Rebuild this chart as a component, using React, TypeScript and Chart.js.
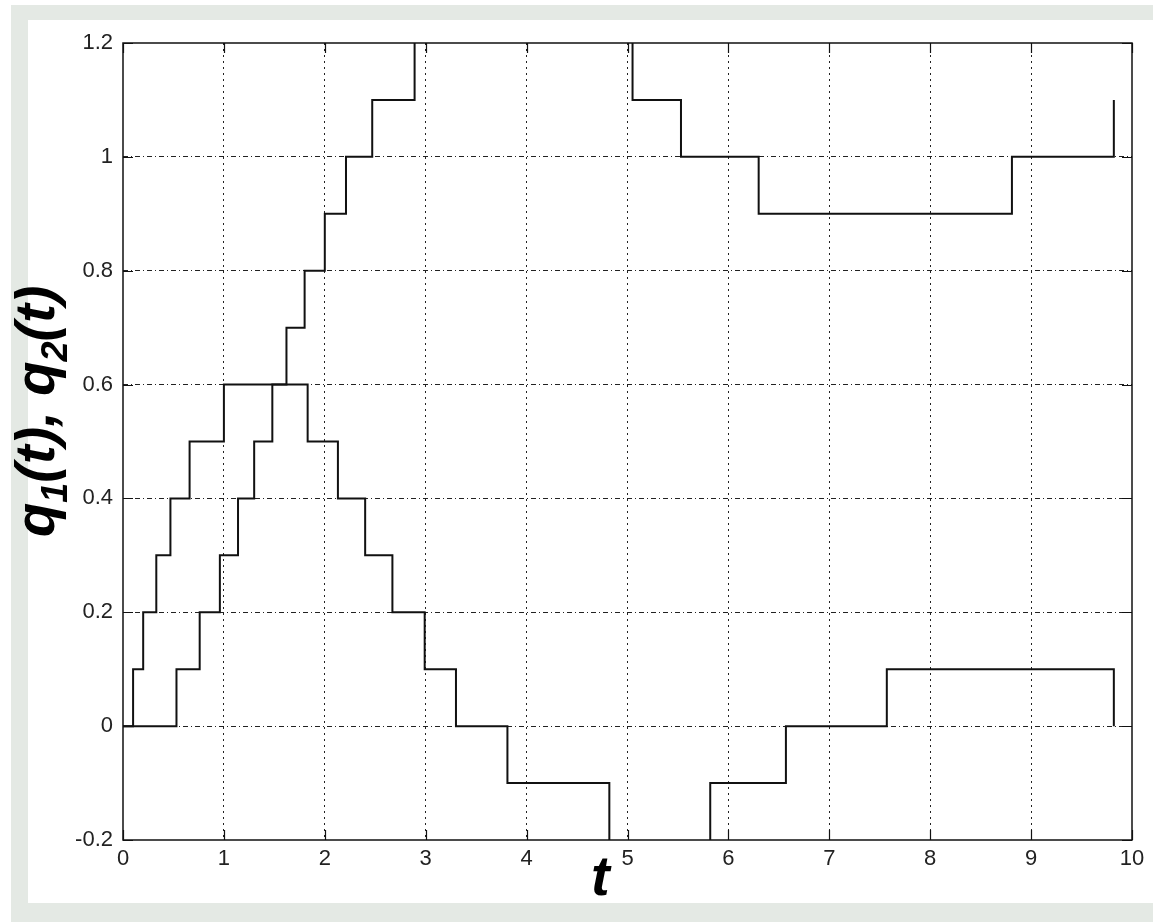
import React, { useEffect, useRef } from 'react';
import { Chart, registerables } from 'chart.js';

Chart.register(...registerables);

// Step times and values of q1(t)
const tQ1 = [0, 0.1, 0.2, 0.33, 0.47, 0.66, 1.0, 1.62, 1.8, 2.0, 2.21, 2.47, 2.89, 5.05, 5.53, 6.3, 8.81, 9.82];
const q1 = [0, 0.1, 0.2, 0.3, 0.4, 0.5, 0.6, 0.7, 0.8, 0.9, 1.0, 1.1, 1.3, 1.1, 1.0, 0.9, 1.0, 1.1];

// Step times and values of q2(t)
const tQ2 = [0, 0.53, 0.76, 0.96, 1.14, 1.3, 1.48, 1.83, 2.13, 2.4, 2.67, 2.99, 3.3, 3.81, 4.82, 5.82, 6.57, 7.57, 9.82];
const q2 = [0, 0.1, 0.2, 0.3, 0.4, 0.5, 0.6, 0.5, 0.4, 0.3, 0.2, 0.1, 0, -0.1, -0.3, -0.1, 0, 0.1, 0];

const xTicks = [0, 1, 2, 3, 4, 5, 6, 7, 8, 9, 10];
const xTickLabels = ['0', '1', '2', '3', '4', '5', '6', '7', '8', '9', '10'];
const yTicks = [-0.2, 0, 0.2, 0.4, 0.6, 0.8, 1.0, 1.2];
const yTickLabels = ['-0.2', '0', '0.2', '0.4', '0.6', '0.8', '1', '1.2'];

const labelFont = 'italic bold 56px "Liberation Sans", Arial, sans-serif';
const subFont = 'italic bold 36px "Liberation Sans", Arial, sans-serif';

const framePlugin = {
  id: 'matlabFrame',
  afterDraw(chart: any) {
    const { ctx, chartArea: a, scales } = chart;
    const xs = scales.x;
    const ys = scales.y;
    ctx.save();
    ctx.strokeStyle = '#111';
    ctx.lineWidth = 1.5;
    ctx.setLineDash([]);
    ctx.strokeRect(a.left, a.top, a.right - a.left, a.bottom - a.top);
    const L = 10;
    ctx.lineWidth = 1.2;
    ctx.beginPath();
    xTicks.forEach((v) => {
      const px = Math.round(xs.getPixelForValue(v)) + 0.5;
      ctx.moveTo(px, a.bottom);
      ctx.lineTo(px, a.bottom - L);
      ctx.moveTo(px, a.top);
      ctx.lineTo(px, a.top + L);
    });
    yTicks.forEach((v) => {
      const py = Math.round(ys.getPixelForValue(v)) + 0.5;
      ctx.moveTo(a.left, py);
      ctx.lineTo(a.left + L, py);
      ctx.moveTo(a.right, py);
      ctx.lineTo(a.right - L, py);
    });
    ctx.stroke();

    // x-axis label "t"
    ctx.fillStyle = '#000';
    ctx.font = labelFont;
    ctx.textAlign = 'center';
    ctx.textBaseline = 'alphabetic';
    ctx.fillText('t', a.left + (a.right - a.left) * 0.473, a.bottom + 55);

    // y-axis label q1(t), q2(t) with subscripts
    const pieces = [
      { t: 'q', f: labelFont, dy: 0 },
      { t: '1', f: subFont, dy: 13 },
      { t: '(t), q', f: labelFont, dy: 0 },
      { t: '2', f: subFont, dy: 13 },
      { t: '(t)', f: labelFont, dy: 0 },
    ];
    let total = 0;
    const widths = pieces.map((p) => {
      ctx.font = p.f;
      const w = ctx.measureText(p.t).width;
      total += w;
      return w;
    });
    const centerY = a.top + (a.bottom - a.top) * 0.462;
    ctx.translate(a.left - 69, centerY);
    ctx.rotate(-Math.PI / 2);
    ctx.textAlign = 'left';
    let u = -total / 2;
    pieces.forEach((p, i) => {
      ctx.font = p.f;
      ctx.fillText(p.t, u, p.dy);
      u += widths[i];
    });
    ctx.restore();
  },
};

export default function App() {
  const canvasRef = useRef<HTMLCanvasElement | null>(null);

  useEffect(() => {
    if (!canvasRef.current) return;
    const tickFont = { family: '"Liberation Sans", Arial, sans-serif', size: 22 };
    const chart = new Chart(canvasRef.current, {
      type: 'line',
      data: {
        datasets: [
          {
            label: 'q1(t)',
            data: tQ1.map((t, i) => ({ x: t, y: q1[i] })),
            stepped: 'before',
            borderColor: '#111',
            borderWidth: 2,
            pointRadius: 0,
            fill: false,
            clip: 0,
          },
          {
            label: 'q2(t)',
            data: tQ2.map((t, i) => ({ x: t, y: q2[i] })),
            stepped: 'before',
            borderColor: '#111',
            borderWidth: 2,
            pointRadius: 0,
            fill: false,
            clip: 0,
          },
        ],
      },
      options: {
        animation: false,
        responsive: false,
        devicePixelRatio: 1,
        layout: { padding: { left: 0, top: 43, right: 21, bottom: 0 } },
        plugins: {
          legend: { display: false },
          tooltip: { enabled: false },
          title: { display: false },
        },
        scales: {
          x: {
            type: 'linear',
            min: 0,
            max: 10,
            afterBuildTicks: (s: any) => {
              s.ticks = xTicks.map((v) => ({ value: v }));
            },
            afterFit: (s: any) => {
              s.height = 82;
            },
            ticks: {
              callback: (_v: any, i: number) => xTickLabels[i],
              font: tickFont,
              color: '#222',
              padding: 6,
              maxRotation: 0,
              autoSkip: false,
            },
            grid: {
              drawTicks: false,
              lineWidth: 1,
              color: (c: any) =>
                c.index === 0 || c.index === xTicks.length - 1 ? 'rgba(0,0,0,0)' : '#222',
            },
            border: { display: false, dash: [2, 4] },
          },
          y: {
            type: 'linear',
            min: -0.2,
            max: 1.2,
            afterBuildTicks: (s: any) => {
              s.ticks = yTicks.map((v) => ({ value: v }));
            },
            afterFit: (s: any) => {
              s.width = 123;
            },
            ticks: {
              callback: (_v: any, i: number) => yTickLabels[i],
              font: tickFont,
              color: '#222',
              padding: 10,
              autoSkip: false,
            },
            grid: {
              drawTicks: false,
              lineWidth: 1,
              color: (c: any) =>
                c.index === 0 || c.index === yTicks.length - 1 ? 'rgba(0,0,0,0)' : '#222',
            },
            border: { display: false, dash: [5, 3, 1, 3] },
          },
        },
      },
      plugins: [framePlugin],
    } as any);
    return () => chart.destroy();
  }, []);

  return (
    <div style={{ position: 'absolute', left: 0, top: 0, width: 1153, height: 922, background: '#ffffff' }}>
      <div style={{ position: 'absolute', left: 11, top: 5, right: 0, bottom: 0, background: '#e4e9e4' }} />
      <div style={{ position: 'absolute', left: 28, top: 20, right: 0, bottom: 19, background: '#ffffff' }} />
      <canvas
        ref={canvasRef}
        width={1153}
        height={922}
        style={{ position: 'absolute', left: 0, top: 0, width: 1153, height: 922 }}
      />
    </div>
  );
}
